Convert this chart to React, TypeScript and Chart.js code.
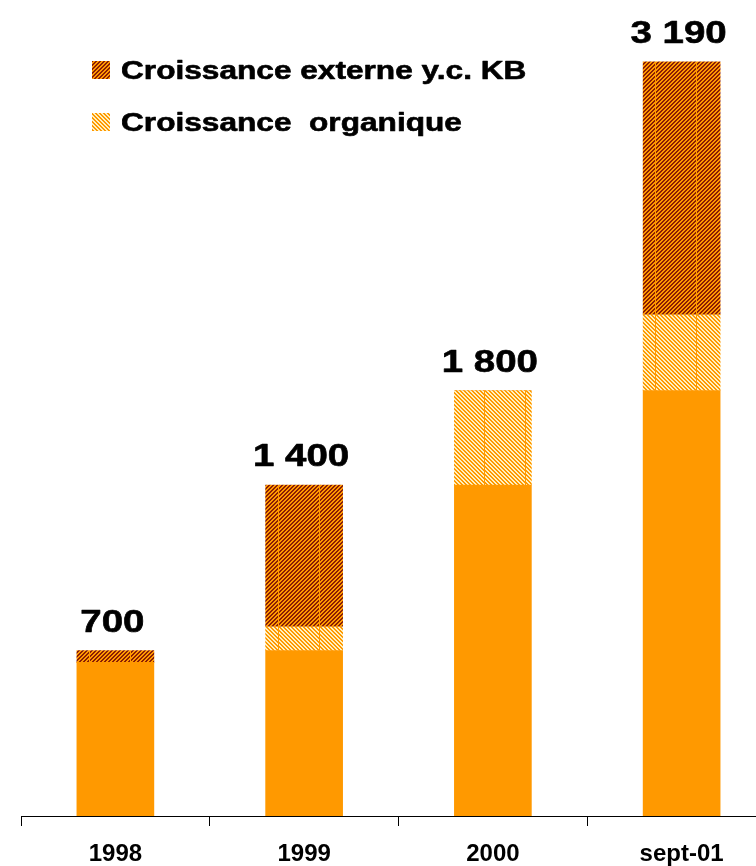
import React, { useEffect, useRef } from "react";
import { Chart, registerables } from "chart.js";

Chart.register(...registerables);

const categories = ["1998", "1999", "2000", "sept-01"];
const baseValues = [650, 700, 1400, 1800];
const organicValues = [0, 100, 400, 320];
const externalValues = [50, 600, 0, 1070];
const totalLabels = ["700", "1 400", "1 800", "3 190"];
const legendLabels = ["Croissance externe y.c. KB", "Croissance  organique"];
const yMax = 3452;

const ORANGE = "#FF9900";
const DARK = "#8A1E04";
const LIGHT = "#FFF0C0";
const FONT = "'Liberation Sans', Arial, Helvetica, sans-serif";
const BAR_WIDTH = 77;
const SEAM_OFFSETS = [12, 12, 30, 12];
const TILE_W = 41;

function makePattern(fg: string, bg: string, dir: "up" | "down", seam: boolean): CanvasPattern {
  const w = seam ? TILE_W : 4;
  const c = document.createElement("canvas");
  c.width = w;
  c.height = 4;
  const g = c.getContext("2d")!;
  g.fillStyle = bg;
  g.fillRect(0, 0, w, 4);
  g.fillStyle = fg;
  for (let y = 0; y < 4; y++) {
    for (let x = seam ? 1 : 0; x < w; x++) {
      const k = dir === "up" ? (x + y) % 4 : (x - y + 8) % 4;
      if (k < 2) g.fillRect(x, y, 1, 1);
    }
  }
  return g.createPattern(c, "repeat")!;
}

export default function App() {
  const ref = useRef<HTMLCanvasElement | null>(null);

  useEffect(() => {
    const canvas = ref.current!;
    const darkPattern = makePattern(DARK, ORANGE, "up", false);
    const lightPattern = makePattern(LIGHT, ORANGE, "down", false);

    const barFill = (kind: "dark" | "light") => (c: any) => {
      const xs = c.chart.scales && c.chart.scales.x;
      const p =
        kind === "dark"
          ? makePattern(DARK, ORANGE, "up", true)
          : makePattern(LIGHT, ORANGE, "down", true);
      if (xs && typeof c.dataIndex === "number") {
        const left = Math.round(xs.getPixelForValue(c.dataIndex) - BAR_WIDTH / 2);
        const off = left + SEAM_OFFSETS[c.dataIndex] - TILE_W * 10;
        try {
          p.setTransform(new DOMMatrix([1, 0, 0, 1, off, 0]));
        } catch (e) {}
      }
      return p;
    };

    const legendPlugin = {
      id: "customLegend",
      afterDraw(chart: any) {
        const ctx = chart.ctx as CanvasRenderingContext2D;
        const area = chart.chartArea;
        const items = [
          { label: legendLabels[0], fill: darkPattern },
          { label: legendLabels[1], fill: lightPattern },
        ];
        const x0 = area.left + 71;
        items.forEach((it, i) => {
          const y = area.top + 61 + i * 52;
          ctx.save();
          ctx.fillStyle = it.fill;
          ctx.fillRect(x0, y, 18, 18);
          ctx.translate(x0 + 29, y + 18);
          ctx.scale(1.24, 1);
          ctx.font = `bold 25.5px ${FONT}`;
          ctx.fillStyle = "#000";
          ctx.strokeStyle = "#000";
          ctx.lineWidth = 0.6;
          ctx.lineJoin = "round";
          ctx.textAlign = "left";
          ctx.textBaseline = "alphabetic";
          ctx.fillText(it.label, 0, 0);
          ctx.strokeText(it.label, 0, 0);
          ctx.restore();
        });
      },
    };

    const totalsPlugin = {
      id: "totals",
      afterDatasetsDraw(chart: any) {
        const ctx = chart.ctx as CanvasRenderingContext2D;
        const xs = chart.scales.x;
        const ys = chart.scales.y;
        categories.forEach((_, i) => {
          const total = baseValues[i] + organicValues[i] + externalValues[i];
          const x = xs.getPixelForValue(i);
          const y = ys.getPixelForValue(total);
          ctx.save();
          ctx.translate(x - 3, y - 19);
          ctx.scale(1.24, 1);
          ctx.font = `bold 31px ${FONT}`;
          ctx.fillStyle = "#000";
          ctx.strokeStyle = "#000";
          ctx.lineWidth = 0.6;
          ctx.lineJoin = "round";
          ctx.textAlign = "center";
          ctx.textBaseline = "alphabetic";
          ctx.fillText(totalLabels[i], 0, 0);
          ctx.strokeText(totalLabels[i], 0, 0);
          ctx.restore();
        });
      },
    };

    const chart = new Chart(canvas, {
      type: "bar",
      data: {
        labels: categories,
        datasets: [
          {
            label: "base",
            data: baseValues,
            backgroundColor: ORANGE,
            borderWidth: 0,
            barThickness: BAR_WIDTH,
          },
          {
            label: legendLabels[1],
            data: organicValues,
            backgroundColor: barFill("light"),
            borderWidth: 0,
            barThickness: BAR_WIDTH,
          },
          {
            label: legendLabels[0],
            data: externalValues,
            backgroundColor: barFill("dark"),
            borderWidth: 0,
            barThickness: BAR_WIDTH,
          },
        ],
      },
      options: {
        responsive: false,
        maintainAspectRatio: false,
        animation: false,
        devicePixelRatio: 1,
        events: [],
        layout: { padding: { left: 21, right: 0, top: 0, bottom: 0 } },
        plugins: {
          legend: { display: false },
          tooltip: { enabled: false },
          title: { display: false },
        },
        scales: {
          x: {
            stacked: true,
            offset: true,
            grid: {
              display: true,
              drawOnChartArea: false,
              drawTicks: true,
              tickLength: 10,
              color: "#000",
              lineWidth: 1,
              offset: true,
            },
            border: { display: true, color: "#000", width: 1 },
            ticks: {
              color: "#000",
              padding: 14,
              font: { family: FONT, weight: "bold", size: 24 },
              maxRotation: 0,
            },
            afterFit: (s: any) => {
              s.height = 50;
            },
          },
          y: {
            stacked: true,
            display: false,
            min: 0,
            max: yMax,
          },
        },
      },
      plugins: [totalsPlugin, legendPlugin],
    } as any);

    return () => chart.destroy();
  }, []);

  return (
    <div
      style={{
        position: "absolute",
        left: 0,
        top: 0,
        width: 756,
        height: 866,
        overflow: "hidden",
        background: "#fff",
      }}
    >
      <canvas ref={ref} width={776} height={866} style={{ display: "block" }} />
    </div>
  );
}
